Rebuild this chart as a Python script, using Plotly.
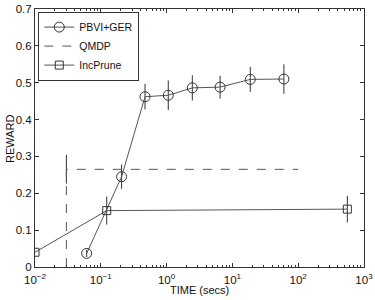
import plotly.graph_objects as go

pbvi_x = [0.061, 0.207, 0.47, 1.06, 2.46, 6.5, 18.7, 60.6]
pbvi_y = [0.037, 0.245, 0.462, 0.466, 0.486, 0.488, 0.509, 0.510]
pbvi_err = [0.01, 0.033, 0.035, 0.04, 0.034, 0.031, 0.034, 0.04]

qmdp_x = [0.03, 0.03, 100]
qmdp_y = [0.0, 0.265, 0.265]
qmdp_err = [0.0, 0.039, 0.0]

inc_x = [0.01, 0.123, 558]
inc_y = [0.04, 0.153, 0.157]
inc_err = [0.0, 0.038, 0.036]

xtick_vals = [0.01, 0.1, 1, 10, 100, 1000]
xtick_text = ["10<sup>−2</sup>", "10<sup>−1</sup>", "10<sup>0</sup>",
              "10<sup>1</sup>", "10<sup>2</sup>", "10<sup>3</sup>"]
ytick_vals = [0, 0.1, 0.2, 0.3, 0.4, 0.5, 0.6, 0.7]
ytick_text = ["0", "0.1", "0.2", "0.3", "0.4", "0.5", "0.6", "0.7"]

LC = "#555555"
MC = "#333333"

fig = go.Figure()
fig.add_trace(go.Scatter(
    x=pbvi_x, y=pbvi_y, name="PBVI+GER", mode="lines+markers",
    line=dict(color=LC, width=1),
    marker=dict(symbol="circle-open", size=10, color=MC, line=dict(width=1)),
    error_y=dict(type="data", array=pbvi_err, width=0, color=MC, thickness=1),
))
fig.add_trace(go.Scatter(
    x=qmdp_x, y=qmdp_y, name="QMDP", mode="lines",
    line=dict(color=LC, width=1, dash="dash"),
    error_y=dict(type="data", array=qmdp_err, width=0, color=MC, thickness=1),
))
fig.add_trace(go.Scatter(
    x=inc_x, y=inc_y, name="IncPrune", mode="lines+markers",
    line=dict(color=LC, width=1),
    marker=dict(symbol="square-open", size=8, color=MC, line=dict(width=1)),
    error_y=dict(type="data", array=inc_err, width=0, color=MC, thickness=1),
))

fig.update_layout(
    width=375, height=300,
    margin=dict(l=35, r=11, t=9, b=33),
    paper_bgcolor="white", plot_bgcolor="white",
    font=dict(family="Liberation Sans, Arial, sans-serif", size=11.5, color="#111"),
    showlegend=True,
    legend=dict(x=0.01, y=0.99, xanchor="left", yanchor="top",
                bgcolor="white", bordercolor="#333", borderwidth=1,
                font=dict(size=10.5), tracegroupgap=0, itemwidth=30),
    xaxis=dict(
        type="log", range=[-2, 3], automargin=False,
        tickvals=xtick_vals, ticktext=xtick_text,
        ticks="inside", ticklen=4, tickcolor="#333",
        showline=True, linecolor="#333", linewidth=1, mirror="ticks",
        showgrid=False, zeroline=False, ticklabelstandoff=2,
        minor=dict(ticks="inside", ticklen=2, tickcolor="#333", dtick="D1", showgrid=False),
    ),
    yaxis=dict(
        range=[0, 0.7], automargin=False,
        tickvals=ytick_vals, ticktext=ytick_text,
        ticks="inside", ticklen=4, tickcolor="#333",
        showline=True, linecolor="#333", linewidth=1, mirror="ticks",
        showgrid=False, zeroline=False,
    ),
    annotations=[
        dict(text="TIME (secs)", xref="paper", yref="paper", x=0.5, y=-0.089,
             xanchor="center", yanchor="middle", showarrow=False, font=dict(size=11)),
        dict(text="REWARD", xref="paper", yref="paper", x=-0.076, y=0.5,
             xanchor="center", yanchor="middle", textangle=-90, showarrow=False,
             font=dict(size=11)),
    ],
)

fig.write_html("out.html", config={"displayModeBar": False},
               post_script="document.body.style.margin='0';document.body.style.padding='0';")
